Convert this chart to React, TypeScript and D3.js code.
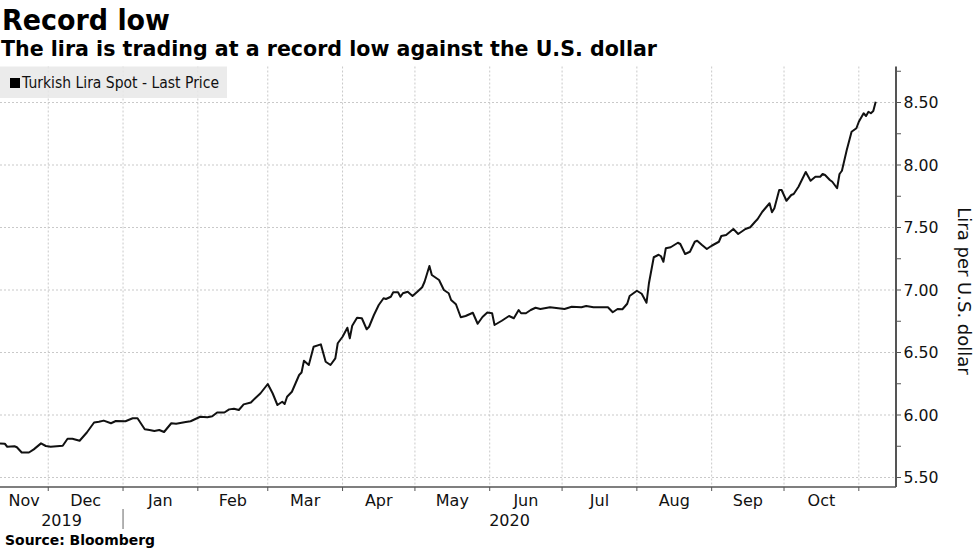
import React, { useEffect, useRef } from 'react';
import * as d3 from 'd3';

const dates = [
  '2019-11-11', '2019-11-13', '2019-11-14', '2019-11-17', '2019-11-18', '2019-11-20', '2019-11-23', '2019-11-25',
  '2019-11-28', '2019-11-30', '2019-12-02', '2019-12-07', '2019-12-09', '2019-12-11', '2019-12-14', '2019-12-17',
  '2019-12-20', '2019-12-22', '2019-12-24', '2019-12-27', '2019-12-29', '2020-01-02', '2020-01-05', '2020-01-07',
  '2020-01-10', '2020-01-12', '2020-01-14', '2020-01-16', '2020-01-18', '2020-01-21', '2020-01-23', '2020-01-27',
  '2020-01-29', '2020-02-02', '2020-02-05', '2020-02-07', '2020-02-09', '2020-02-12', '2020-02-14', '2020-02-16',
  '2020-02-18', '2020-02-20', '2020-02-23', '2020-02-25', '2020-02-27', '2020-03-01', '2020-03-03', '2020-03-05',
  '2020-03-07', '2020-03-08', '2020-03-09', '2020-03-11', '2020-03-14', '2020-03-15', '2020-03-16', '2020-03-18',
  '2020-03-20', '2020-03-23', '2020-03-25', '2020-03-27', '2020-03-29', '2020-03-30', '2020-04-01', '2020-04-03',
  '2020-04-04', '2020-04-05', '2020-04-07', '2020-04-09', '2020-04-11', '2020-04-12', '2020-04-14', '2020-04-16',
  '2020-04-18', '2020-04-19', '2020-04-21', '2020-04-22', '2020-04-24', '2020-04-25', '2020-04-26', '2020-04-28',
  '2020-04-30', '2020-05-02', '2020-05-04', '2020-05-05', '2020-05-07', '2020-05-08', '2020-05-11', '2020-05-13',
  '2020-05-15', '2020-05-16', '2020-05-18', '2020-05-20', '2020-05-22', '2020-05-25', '2020-05-27', '2020-05-29',
  '2020-05-31', '2020-06-02', '2020-06-03', '2020-06-06', '2020-06-09', '2020-06-11', '2020-06-13', '2020-06-14',
  '2020-06-16', '2020-06-18', '2020-06-20', '2020-06-22', '2020-06-26', '2020-07-02', '2020-07-05', '2020-07-09',
  '2020-07-11', '2020-07-14', '2020-07-20', '2020-07-22', '2020-07-24', '2020-07-26', '2020-07-28', '2020-07-29',
  '2020-08-01', '2020-08-03', '2020-08-05', '2020-08-06', '2020-08-08', '2020-08-10', '2020-08-11', '2020-08-12',
  '2020-08-13', '2020-08-15', '2020-08-18', '2020-08-19', '2020-08-21', '2020-08-23', '2020-08-25', '2020-08-26',
  '2020-08-28', '2020-08-30', '2020-09-01', '2020-09-04', '2020-09-05', '2020-09-07', '2020-09-10', '2020-09-12',
  '2020-09-15', '2020-09-17', '2020-09-19', '2020-09-20', '2020-09-22', '2020-09-25', '2020-09-26', '2020-09-27',
  '2020-09-29', '2020-09-30', '2020-10-02', '2020-10-04', '2020-10-05', '2020-10-07', '2020-10-10', '2020-10-12',
  '2020-10-14', '2020-10-16', '2020-10-17', '2020-10-18', '2020-10-20', '2020-10-21', '2020-10-23', '2020-10-24',
  '2020-10-25', '2020-10-27', '2020-10-29', '2020-10-31', '2020-11-01', '2020-11-03', '2020-11-04', '2020-11-05',
  '2020-11-06', '2020-11-07', '2020-11-08',
];

const lira = [
  5.773, 5.77, 5.746, 5.75, 5.742, 5.7, 5.7, 5.725,
  5.773, 5.752, 5.746, 5.754, 5.81, 5.81, 5.794, 5.86,
  5.94, 5.946, 5.955, 5.934, 5.952, 5.95, 5.974, 5.974,
  5.886, 5.88, 5.872, 5.88, 5.864, 5.934, 5.93, 5.944,
  5.95, 5.986, 5.982, 5.99, 6.02, 6.02, 6.045, 6.05,
  6.04, 6.085, 6.1, 6.138, 6.174, 6.248, 6.174, 6.08,
  6.106, 6.088, 6.146, 6.186, 6.32, 6.34, 6.434, 6.4,
  6.546, 6.565, 6.426, 6.4, 6.453, 6.574, 6.626, 6.698,
  6.613, 6.714, 6.778, 6.774, 6.686, 6.706, 6.8, 6.88,
  6.934, 6.928, 6.946, 6.982, 6.982, 6.946, 6.974, 6.986,
  6.952, 6.986, 7.022, 7.066, 7.192, 7.12, 7.08, 7.0,
  6.974, 6.92, 6.886, 6.782, 6.792, 6.818, 6.73, 6.784,
  6.82, 6.814, 6.72, 6.754, 6.792, 6.774, 6.84, 6.814,
  6.814, 6.84, 6.858, 6.848, 6.862, 6.848, 6.866, 6.862,
  6.872, 6.862, 6.862, 6.822, 6.848, 6.846, 6.89, 6.952,
  6.994, 6.97, 6.898, 7.054, 7.262, 7.282, 7.27, 7.226,
  7.334, 7.342, 7.378, 7.368, 7.288, 7.306, 7.386, 7.394,
  7.36, 7.328, 7.354, 7.386, 7.432, 7.44, 7.488, 7.448,
  7.488, 7.502, 7.546, 7.566, 7.626, 7.694, 7.622, 7.654,
  7.8, 7.8, 7.714, 7.76, 7.768, 7.826, 7.944, 7.874,
  7.906, 7.906, 7.928, 7.92, 7.88, 7.866, 7.814, 7.928,
  7.954, 8.12, 8.266, 8.294, 8.346, 8.414, 8.392, 8.426,
  8.414, 8.432, 8.506,
];

const yTicks = [5.5, 6.0, 6.5, 7.0, 7.5, 8.0, 8.5];
const monthNames = ['Nov', 'Dec', 'Jan', 'Feb', 'Mar', 'Apr', 'May', 'Jun', 'Jul', 'Aug', 'Sep', 'Oct'];
const years = ['2019', '2020'];

const W = 977;
const H = 549;
const FONT = 'DejaVu Sans, sans-serif';

export default function App() {
  const ref = useRef<SVGSVGElement>(null);

  useEffect(() => {
    document.body.style.margin = '0';
    const svg = d3.select(ref.current);
    svg.selectAll('*').remove();

    const parse = d3.timeParse('%Y-%m-%d');
    const data = dates.map((d, i) => ({ date: parse(d) as Date, value: lira[i] }));

    const plotRight = 896;
    const plotBottom = 487;
    const plotTop = 66.5;

    const x = d3
      .scaleTime()
      .domain([new Date(2019, 10, 11), new Date(2020, 10, 16)])
      .range([0, 895]);
    const y = d3.scaleLinear().domain([5.5, 8.5]).range([477.5, 102.5]);

    const monthStarts = d3.timeMonth.range(new Date(2019, 11, 1), new Date(2020, 10, 2));

    // grid
    const grid = svg.append('g');
    grid
      .selectAll('line.h')
      .data(yTicks)
      .enter()
      .append('line')
      .attr('x1', 0)
      .attr('x2', plotRight)
      .attr('y1', d => y(d))
      .attr('y2', d => y(d))
      .attr('stroke', '#c9c9c9')
      .attr('stroke-dasharray', '2,2');
    grid
      .selectAll('line.v')
      .data(monthStarts)
      .enter()
      .append('line')
      .attr('x1', d => x(d))
      .attr('x2', d => x(d))
      .attr('y1', plotTop)
      .attr('y2', plotBottom)
      .attr('stroke', '#c9c9c9')
      .attr('stroke-dasharray', '2,2');

    // legend
    svg
      .append('rect')
      .attr('x', 0)
      .attr('y', 66.5)
      .attr('width', 227)
      .attr('height', 31.5)
      .attr('fill', '#e8e8e8')
      .attr('fill-opacity', 0.85);
    svg
      .append('rect')
      .attr('x', 10)
      .attr('y', 78)
      .attr('width', 10)
      .attr('height', 10)
      .attr('fill', '#000');
    svg
      .append('text')
      .attr('x', 22)
      .attr('y', 88.3)
      .attr('font-family', FONT)
      .attr('font-size', 15)
      .attr('fill', '#111')
      .attr('textLength', 197)
      .attr('lengthAdjust', 'spacingAndGlyphs')
      .text('Turkish Lira Spot - Last Price');

    // line
    const line = d3
      .line<{ date: Date; value: number }>()
      .x(d => x(d.date))
      .y(d => y(d.value));
    svg
      .append('path')
      .datum(data)
      .attr('d', line)
      .attr('fill', 'none')
      .attr('stroke', '#111')
      .attr('stroke-width', 2)
      .attr('stroke-linejoin', 'round');

    // axes
    svg
      .append('line')
      .attr('x1', 0)
      .attr('x2', plotRight)
      .attr('y1', plotBottom)
      .attr('y2', plotBottom)
      .attr('stroke', '#555')
      .attr('stroke-width', 1.5);
    svg
      .append('line')
      .attr('x1', plotRight)
      .attr('x2', plotRight)
      .attr('y1', plotTop)
      .attr('y2', plotBottom)
      .attr('stroke', '#555')
      .attr('stroke-width', 2);

    svg
      .selectAll('line.xt')
      .data(monthStarts)
      .enter()
      .append('line')
      .attr('x1', d => x(d))
      .attr('x2', d => x(d))
      .attr('y1', plotBottom)
      .attr('y2', plotBottom + 4)
      .attr('stroke', '#555');

    const minorTicks = d3.range(5.5, 8.76, 0.25);
    svg
      .selectAll('line.yt')
      .data(minorTicks)
      .enter()
      .append('line')
      .attr('x1', plotRight)
      .attr('x2', plotRight + 5)
      .attr('y1', d => y(d))
      .attr('y2', d => y(d))
      .attr('stroke', '#555');

    svg
      .selectAll('text.yl')
      .data(yTicks)
      .enter()
      .append('text')
      .attr('x', 903.5)
      .attr('y', d => y(d))
      .attr('dy', '0.36em')
      .attr('font-family', FONT)
      .attr('font-size', 16.5)
      .attr('fill', '#111')
      .attr('textLength', 35)
      .attr('lengthAdjust', 'spacingAndGlyphs')
      .text(d => d.toFixed(2));

    svg
      .append('text')
      .attr('transform', 'translate(964,291) rotate(90)')
      .attr('text-anchor', 'middle')
      .attr('dy', '0.35em')
      .attr('font-family', FONT)
      .attr('font-size', 18)
      .attr('fill', '#111')
      .text('Lira per U.S. dollar');

    // month labels centred between boundaries
    const bounds = [x.domain()[0], ...monthStarts];
    svg
      .selectAll('text.ml')
      .data(monthNames)
      .enter()
      .append('text')
      .attr('x', (_, i) => (x(bounds[i]) + x(bounds[i + 1])) / 2)
      .attr('y', 506)
      .attr('text-anchor', 'middle')
      .attr('font-family', FONT)
      .attr('font-size', 16)
      .attr('fill', '#111')
      .text(d => d);

    const jan = new Date(2020, 0, 1);
    const yearSpans = [
      [0, x(jan)],
      [x(jan), plotRight],
    ];
    svg
      .selectAll('text.yr')
      .data(years)
      .enter()
      .append('text')
      .attr('x', (_, i) => (yearSpans[i][0] + yearSpans[i][1]) / 2)
      .attr('y', 526)
      .attr('text-anchor', 'middle')
      .attr('font-family', FONT)
      .attr('font-size', 16)
      .attr('fill', '#111')
      .text(d => d);
    svg
      .append('line')
      .attr('x1', x(jan))
      .attr('x2', x(jan))
      .attr('y1', 509)
      .attr('y2', 529)
      .attr('stroke', '#666');

    // titles
    svg
      .append('text')
      .attr('x', 2)
      .attr('y', 29.5)
      .attr('font-family', FONT)
      .attr('font-weight', 'bold')
      .attr('font-size', 29)
      .attr('fill', '#000')
      .attr('textLength', 168)
      .attr('lengthAdjust', 'spacingAndGlyphs')
      .text('Record low');
    svg
      .append('text')
      .attr('x', 1)
      .attr('y', 55.7)
      .attr('font-family', FONT)
      .attr('font-weight', 'bold')
      .attr('font-size', 21)
      .attr('fill', '#000')
      .attr('textLength', 656)
      .attr('lengthAdjust', 'spacingAndGlyphs')
      .text('The lira is trading at a record low against the U.S. dollar');
    svg
      .append('text')
      .attr('x', 5)
      .attr('y', 545)
      .attr('font-family', FONT)
      .attr('font-weight', 'bold')
      .attr('font-size', 14)
      .attr('fill', '#000')
      .attr('textLength', 150)
      .attr('lengthAdjust', 'spacingAndGlyphs')
      .text('Source: Bloomberg');
  }, []);

  return <svg ref={ref} width={W} height={H} style={{ display: 'block', background: '#fff' }} />;
}
